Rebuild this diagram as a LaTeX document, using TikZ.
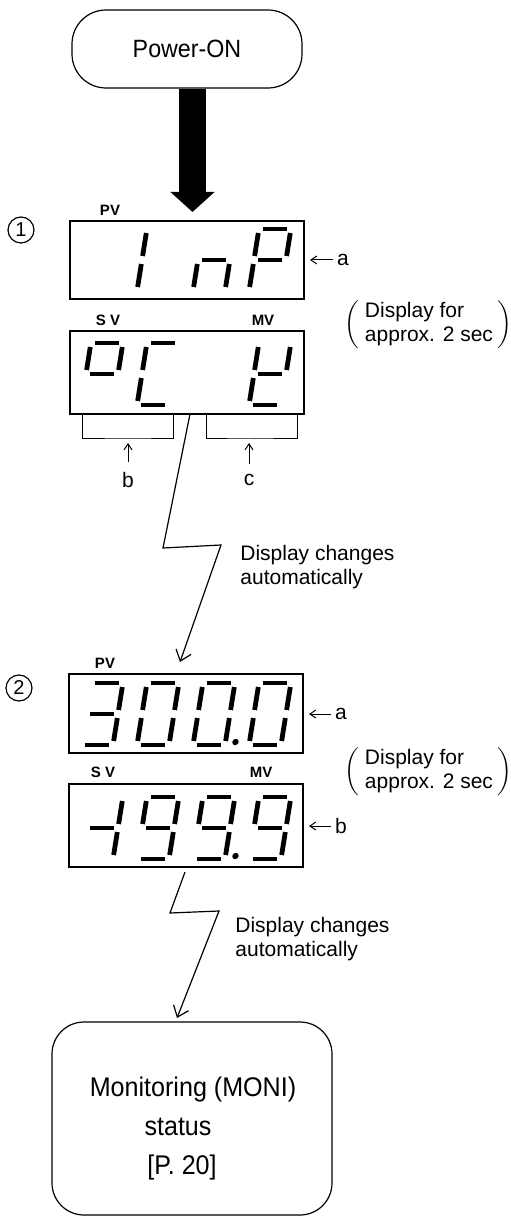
\documentclass[tikz,border=0pt]{standalone}
\usepackage{fontspec}
\setmainfont{Liberation Sans}
\newfontfamily\condfont[FakeStretch=0.93]{Liberation Sans}
\usetikzlibrary{positioning,arrows.meta}

% segments of one seven-segment digit (local units, origin = bottom left)
\newcommand{\sega}{\draw[lcdseg] (4,-62) -- (28,-62);}
\newcommand{\segb}{\draw[lcdseg] (32,-58) -- (32,-35);}
\newcommand{\segc}{\draw[lcdseg] (32,-27) -- (32,-4);}
\newcommand{\segd}{\draw[lcdseg] (4,0) -- (28,0);}
\newcommand{\sege}{\draw[lcdseg] (0,-4) -- (0,-27);}
\newcommand{\segf}{\draw[lcdseg] (0,-35) -- (0,-58);}
\newcommand{\segg}{\draw[lcdseg] (4,-31) -- (28,-31);}
\newcommand{\segp}{\fill (42,-3) circle[radius=3.2];}
\newcommand{\lcddigit}[3]{%
  \begin{scope}[shift={(#1,#2)}, xslant=0.16]
    \foreach \s in {#3} {\csname seg\s\endcsname}
  \end{scope}}

\tikzset{
  startbox/.style={draw, line width=0.6pt, rounded corners=17pt, minimum width=115pt, minimum height=39pt, font=\condfont\fontsize{12.5pt}{14pt}\selectfont},
  endbox/.style={draw, line width=0.6pt, rounded corners=16pt, minimum width=140pt, minimum height=96.5pt},
  endtext/.style={font=\condfont\fontsize{13.5pt}{16pt}\selectfont, inner sep=0pt},
  lcdbox/.style={draw, line width=0.6pt, inner sep=0pt, outer sep=0pt, minimum width=117pt},
  lcdseg/.style={line width=2.4pt},
  tag/.style={font=\fontsize{7.5pt}{9pt}\selectfont\bfseries, inner sep=0pt},
  note/.style={font=\fontsize{10.5pt}{12pt}\selectfont, align=left, inner sep=0pt},
  circnum/.style={circle, draw, line width=0.6pt, inner sep=0pt, minimum size=13pt, font=\fontsize{10pt}{12pt}\selectfont},
  bigarrow/.style={line width=13.5pt, -{Triangle[length=10pt,width=21.5pt]}},
  ptr/.style={line width=0.5pt, -{Straight Barb[length=3pt,width=4pt]}},
  zig/.style={line width=0.6pt, -{Straight Barb[length=5pt,width=8pt]}}
}

\begin{document}
\begin{tikzpicture}[x=0.5pt, y=-0.5pt]
\useasboundingbox (0,0) rectangle (510,1218);
% Power-ON
\node[startbox] (power) at (187,49) {Power-ON};
\coordinate (in1) at (192.5,212);
\draw[bigarrow] (power.south -| in1) -- (in1);

% Display 1
\node[circnum] (n1) at (21,230) {1};
\node[lcdbox, minimum height=39pt] (pv1) at (187,260) {};
\node[tag] (pv1lbl) at (110,210) {PV};
\node[lcdbox, minimum height=41.5pt] (sv1) at (187,372.5) {};
\node[tag] (sv1lbl) at (108,320) {S V};
\node[tag] (mv1lbl) at (263,320) {MV};
\lcddigit{137}{291}{e,f}
\lcddigit{193}{291}{c,e,g}
\lcddigit{249}{291}{a,b,e,f,g}
\lcddigit{81}{405}{a,b,f,g}
\lcddigit{137}{405}{a,d,e,f}
\lcddigit{249}{405}{b,d,e,f,g}
\node[note] (a1) at (343,260) {a};
\draw[ptr, shorten <=2pt, shorten >=3pt] (a1) -- (pv1.east);
\node[note] (hold1) at (428,325) {$\left(\hspace{3pt}\begin{tabular}{@{}l@{}}Display for\\approx. 2 sec\end{tabular}\hspace{2pt}\right)$};
% Brackets b and c
\coordinate (bb) at (128,439);
\coordinate (cb) at (249,439);
\draw[line width=0.5pt] (82,414) |- (bb) -| (173,414);
\draw[line width=0.5pt] (206,414) |- (cb) -| (297,414);
\node[note] (lb) at (128,480) {b};
\node[note] (lc) at (249,480) {c};
\draw[ptr, shorten <=5pt, shorten >=2pt] (lb) -- (bb);
\draw[ptr, shorten <=5pt, shorten >=2pt] (lc) -- (cb);

% Change 1 -> 2
\coordinate (z1) at ([xshift=1.5pt]sv1.south);
\coordinate (k1) at (163,548);
\coordinate (k2) at (221,545);
\coordinate (t1) at (180,662);
\draw[zig] (z1) -- (k1) -- (k2) -- (t1);
\node[note, anchor=west] (chg1) at (240,567.5) {Display changes\\automatically};

% Display 2
\node[circnum] (n2) at (19,688) {2};
\node[lcdbox, minimum height=39.5pt] (pv2) at (186,713.5) {};
\node[tag] (pv2lbl) at (105,663) {PV};
\node[lcdbox, minimum height=41.5pt] (sv2) at (186,825.5) {};
\node[tag] (sv2lbl) at (103,772) {S V};
\node[tag] (mv2lbl) at (261,772) {MV};
\lcddigit{81}{745}{a,b,c,d,g}
\lcddigit{137}{745}{a,b,c,d,e,f}
\lcddigit{193}{745}{a,b,c,d,e,f,p}
\lcddigit{249}{745}{a,b,c,d,e,f}
\lcddigit{81}{859}{b,c,g}
\lcddigit{137}{859}{a,b,c,d,f,g}
\lcddigit{193}{859}{a,b,c,d,f,g,p}
\lcddigit{249}{859}{a,b,c,d,f,g}
\node[note] (a2) at (341,714) {a};
\draw[ptr, shorten <=2pt, shorten >=3pt] (a2) -- (pv2.east |- a2);
\node[note] (b2) at (341,826) {b};
\draw[ptr, shorten <=2pt, shorten >=3pt] (b2) -- (sv2.east |- b2);
\node[note] (hold2) at (428,772) {$\left(\hspace{3pt}\begin{tabular}{@{}l@{}}Display for\\approx. 2 sec\end{tabular}\hspace{2pt}\right)$};

% Change 2 -> monitoring
\coordinate (z2) at ([xshift=-0.5pt,yshift=-2.5pt]sv2.south);
\coordinate (k3) at (170,913);
\coordinate (k4) at (219,911);
\coordinate (t2) at (177,1018);
\draw[zig] (z2) -- (k3) -- (k4) -- (t2);
\node[note, anchor=west] (chg2) at (235,939) {Display changes\\automatically};

% Monitoring status
\node[endbox] (moni) at (192,1118.5) {};
\node[endtext] (mon1) at (193,1090) {Monitoring (MONI)};
\node[endtext] (mon2) at (178,1127) {status};
\node[endtext] (mon3) at (182,1168) {[P. 20]};
\end{tikzpicture}
\end{document}
